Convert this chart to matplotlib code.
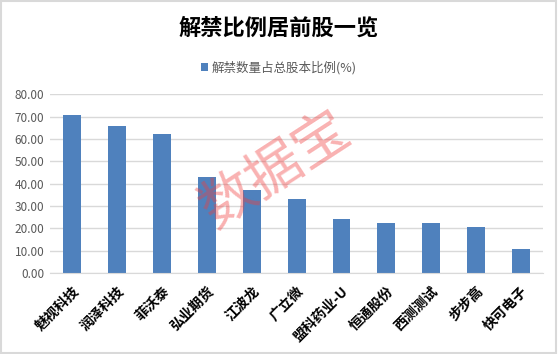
import matplotlib.pyplot as plt
from matplotlib.patches import Rectangle

plt.rcParams['font.family'] = ['Noto Sans CJK SC', 'DejaVu Sans']

names = ['魅视科技', '润泽科技', '菲沃泰', '弘业期货', '江波龙', '广立微',
         '盟科药业-U', '恒通股份', '西测测试', '步步高', '快可电子']
ratios = [70.6, 65.7, 62.1, 42.9, 37.1, 33.1, 24.1, 22.3, 22.3, 20.6, 10.7]
yticks = [0, 10, 20, 30, 40, 50, 60, 70, 80]

fig = plt.figure(figsize=(5.58, 3.54), dpi=100)
ax = fig.add_axes([0.0896, 0.229, 0.884, 0.505])

ax.bar(range(len(names)), ratios, width=0.4, color='#4f81bd', zorder=2,
       label='解禁数量占总股本比例(%)')
ax.set_xlim(-0.5, len(names) - 0.5)
ax.set_ylim(0, 80)
ax.set_yticks(yticks)
ax.set_yticklabels(['%.2f' % v for v in yticks], color='#595959', fontsize=8.5)
ax.set_xticks(range(len(names)))
ax.set_xticklabels(names, rotation=45, ha='right', rotation_mode='anchor',
                   fontsize=10, fontweight='bold', color='black')
ax.tick_params(length=0, pad=4)
ax.tick_params(axis='x', pad=8)
ax.grid(axis='y', color='#d9d9d9', linewidth=1, zorder=0)
for s in ['top', 'right', 'left']:
    ax.spines[s].set_visible(False)
ax.spines['bottom'].set_color('#d9d9d9')

fig.text(0.5, 0.92, '解禁比例居前股一览', ha='center', va='center',
         fontsize=16, fontweight='heavy')
ax.legend(loc='center', bbox_to_anchor=(0.5, 0.808), bbox_transform=fig.transFigure,
          frameon=False, fontsize=9, handlelength=0.6, handleheight=0.6,
          handletextpad=0.3, labelcolor='#595959')

fig.text(0.493, 0.52, '数据宝', ha='center', va='center', rotation=33,
         fontsize=40, fontweight='light', color=(0.94, 0.24, 0.24), alpha=0.4, zorder=5)

fig.patches.append(Rectangle((0.002, 0.003), 0.995, 0.994, transform=fig.transFigure,
                             fill=False, edgecolor='#d9d9d9', linewidth=1.5))

fig.savefig('out.png', dpi=100)
